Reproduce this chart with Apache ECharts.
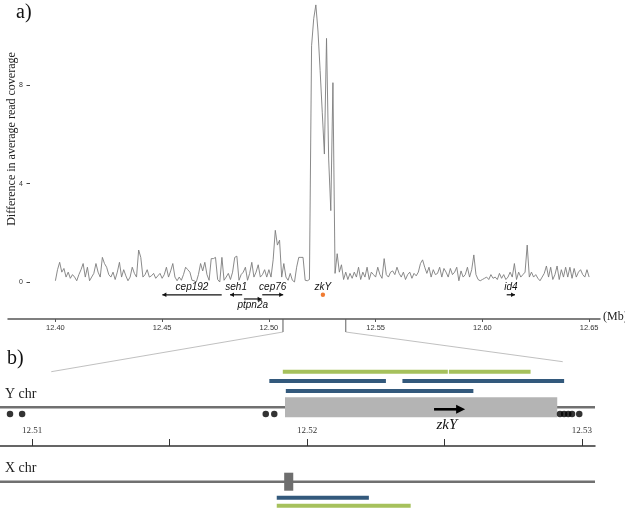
<!DOCTYPE html>
<html>
<head>
<meta charset="utf-8">
<script src="https://cdn.jsdelivr.net/npm/echarts@6/dist/echarts.min.js"></script>
<style>
  html, body { margin: 0; padding: 0; background: #fff; }
  #chart { width: 625px; height: 510px; }
</style>
</head>
<body>
<div id="chart"></div>
<script>
// --- Datos panel a: diferencia de cobertura (bins de 1 kb desde 12.400 Mb) ---
const binStart = 12.400;
const binSize = 0.001;
const coverageDiff = [
  0.05, 0.5, 0.8, 0.4, 0.55, 0.2, 0.4, 0.15, 0.3, 0.2,
  0.05, 0.3, 0.5, 0.75, 0.2, 0.6, 0.05, 0.2, 0.35, 0.75,
  0.4, 0.2, 1.0, 0.75, 0.6, 0.3, 0.2, 0.4, 0.1, 0.4,
  0.8, 0.2, 0.5, 0.25, 0.05, 0.2, 0.6, 0.35, 0.2, 1.3,
  1.0, 0.2, 0.3, 0.5, 0.2, 0.25, 0.35, 0.15, 0.25, 0.35,
  0.15, 0.3, 0.6, 0.2, 0.45, 0.75, 0.2, 0.05, 0.2, 0.07,
  0.3, 0.6, 0.5, 0.4, 0.07, 0.05, 0.0, 0.3, 0.75, 0.45,
  0.8, 0.3, 0.07, 0.95, 0.95, 1.0, 0.1, 0.0, 1.0, 0.07,
  0.2, 0.35, 0.1, 0.4, 1.0, 1.05, 0.07, 0.3, 0.4, 0.6,
  0.07, 0.35, 0.8, 0.2, 0.4, 0.7, 0.2, 0.3, 0.5, 0.2,
  0.5, 0.2, 0.9, 2.1, 1.5, 1.7, 0.2, 0.75, 0.2, 0.07,
  0.35, 0.07, 0.0, 0.6, 1.0, 1.0, 1.0, 0.07, 0.05, 0.1,
  9.6, 10.7, 11.26, 10.2, 8.6, 6.9, 5.2, 9.9, 5.0, 2.9,
  8.1, 0.35, 1.15, 0.4, 0.7, 0.1, 0.4, 0.1, 0.35, 0.15,
  0.4, 0.2, 0.6, 0.1, 0.4, 0.2, 0.6, 0.1, 0.4, 0.3,
  0.2, 0.6, 0.3, 0.15, 0.95, 0.3, 0.2, 0.4, 0.45, 0.3,
  0.6, 0.35, 0.2, 0.4, 0.1, 0.3, 0.4, 0.15, 0.35, 0.25,
  0.4, 0.75, 0.9, 0.6, 0.35, 0.6, 0.2, 0.5, 0.3, 0.35,
  0.6, 0.2, 0.55, 0.4, 0.2, 0.55, 0.3, 0.4, 0.6, 0.05,
  0.45, 0.2, 0.3, 0.6, 0.2, 0.5, 1.1, 0.3, 0.1, 0.05,
  0.1, 0.15, 0.2, 0.1, 0.3, 0.15, 0.2, 0.1, 0.35, 0.15,
  0.3, 0.1, 0.2, 0.4, 0.2, 0.75, 0.1, 0.4, 0.2, 0.3,
  0.4, 1.5, 0.2, 0.4, 0.2, 0.3, 0.15, 0.05, 0.2, 0.35,
  0.65, 0.2, 0.6, 0.1, 0.3, 0.65, 0.1, 0.5, 0.2, 0.6,
  0.2, 0.6, 0.15, 0.55, 0.2, 0.4, 0.5, 0.3, 0.2, 0.5,
  0.2
];
const xTicksA = [12.40, 12.45, 12.50, 12.55, 12.60, 12.65];
const yTicksA = [0, 4, 8];

// genes (Mb)
const geneNames  = ['cep192', 'seh1', 'ptpn2a', 'cep76', 'id4'];
const geneStart  = [12.4501, 12.4818, 12.4883, 12.4969, 12.6114];
const geneEnd    = [12.4779, 12.4875, 12.4966, 12.5067, 12.6153];
const geneStrand = [-1, -1, 1, 1, 1];
const geneLane   = [0, 0, 1, 0, 0];
const zkYName = 'zkY';
const zkYPos = 12.5253;

// zona ampliada (panel a -> panel b)
const zoomFromMb = [12.5066, 12.5360];
const zoomToMb   = [12.5107, 12.5293];

// --- Datos panel b ---
const xTicksB = [12.51, 12.515, 12.52, 12.525, 12.53];
const xLabelsB = ['12.51', '', '12.52', '', '12.53'];
const yChrGene = [12.5192, 12.5291];
const zkYArrow = [12.52462, 12.52575];
const xChrGene = [12.51917, 12.5195];
const greenReadsY = [[12.51912, 12.52512], [12.52516, 12.52813]];
const blueReadsY1 = [[12.51863, 12.52287], [12.52347, 12.52935]];
const blueReadsY2 = [[12.51923, 12.52605]];
const blueReadsX  = [[12.5189, 12.52225]];
const greenReadsX = [[12.5189, 12.52377]];
const yChrDots = [12.5092, 12.50964, 12.5185, 12.51881, 12.5292, 12.52935, 12.5295, 12.52964, 12.5299];

// --- layout ---
const laneLabelY = [-0.2, -0.93];
const laneArrowY = [-0.52, -0.69];
const rowB = { green: 41.7, blue1: 51, blue2: 61, yChr: 77.3, dots: 84, zkYLabel: 95,
               xChr: 151.7, xBlue: 167.7, xGreen: 175.7 };
const GREEN = '#a6c15c';
const BLUE = '#33597c';
const SERIF = '"Liberation Serif", "DejaVu Serif", serif';
const SANS = '"Liberation Sans", Arial, sans-serif';

const chart = echarts.init(document.getElementById('chart'));

const lineData = coverageDiff.map((v, i) => [+(binStart + i * binSize).toFixed(3), v]);

function arrowShape(x1, x2, y, dir, head, half) {
  const tip = dir > 0 ? x2 : x1;
  const base = tip - dir * head;
  return [[tip, y], [base, y - half], [base, y + half]];
}

function geneItem(params, api) {
  const i = params.dataIndex;
  const lane = geneLane[i];
  const a = api.coord([geneStart[i], laneArrowY[lane]]);
  const b = api.coord([geneEnd[i], laneArrowY[lane]]);
  const t = api.coord([(geneStart[i] + geneEnd[i]) / 2, laneLabelY[lane]]);
  const dir = geneStrand[i];
  return {
    type: 'group',
    children: [
      { type: 'line', shape: { x1: a[0], y1: a[1], x2: b[0], y2: b[1] },
        style: { stroke: '#111', lineWidth: 1.2 } },
      { type: 'polygon', shape: { points: arrowShape(a[0], b[0], a[1], dir, 4, 2.2) },
        style: { fill: '#111' } },
      { type: 'text', x: t[0], y: t[1],
        style: { text: geneNames[i], fill: '#111', font: 'italic 10px ' + SANS,
                 textAlign: 'center', textVerticalAlign: 'middle' } }
    ]
  };
}

function zkYItem(params, api) {
  const p = api.coord([zkYPos, laneArrowY[0]]);
  const t = api.coord([zkYPos, laneLabelY[0]]);
  return {
    type: 'group',
    children: [
      { type: 'circle', shape: { cx: p[0], cy: p[1], r: 2.2 }, style: { fill: '#f07b32' } },
      { type: 'text', x: t[0], y: t[1],
        style: { text: zkYName, fill: '#111', font: 'italic 10px ' + SANS,
                 textAlign: 'center', textVerticalAlign: 'middle' } }
    ]
  };
}

function barsSeries(intervals, row, color, h) {
  return {
    type: 'custom', xAxisIndex: 1, yAxisIndex: 1,
    data: intervals.map(d => [d[0], d[1]]),
    renderItem: function (params, api) {
      const a = api.coord([api.value(0), row]);
      const b = api.coord([api.value(1), row]);
      return { type: 'rect', shape: { x: a[0], y: a[1] - h / 2, width: b[0] - a[0], height: h },
               style: { fill: color } };
    }
  };
}

function chromItem(row, label, gene, geneColor, geneH) {
  return {
    type: 'custom', xAxisIndex: 1, yAxisIndex: 1,
    data: [gene],
    renderItem: function (params, api) {
      const cs = params.coordSys;
      const a = api.coord([api.value(0), row]);
      const b = api.coord([api.value(1), row]);
      return {
        type: 'group',
        children: [
          { type: 'line', shape: { x1: cs.x, y1: a[1], x2: cs.x + cs.width, y2: a[1] },
            style: { stroke: '#707070', lineWidth: 2.5 } },
          { type: 'rect', shape: { x: a[0], y: a[1] - geneH / 2, width: b[0] - a[0], height: geneH },
            style: { fill: geneColor } },
          { type: 'text', x: cs.x + 5, y: a[1] - 13,
            style: { text: label, fill: '#222', font: '14px ' + SERIF,
                     textAlign: 'left', textVerticalAlign: 'middle' } }
        ]
      };
    }
  };
}

chart.setOption({
  animation: false,
  backgroundColor: '#fff',
  grid: [
    { left: 8, right: 25, top: 0, height: 319 },
    { left: 0, right: 30, top: 330, height: 180 },
    { left: 0, right: 30, top: 446, height: 20 }
  ],
  xAxis: [
    {
      gridIndex: 0, type: 'value', min: 12.3778, max: 12.6551,
      axisLine: { show: true, onZero: false, lineStyle: { color: '#555', width: 1.5 } },
      axisTick: { show: true, length: 3, customValues: xTicksA, lineStyle: { color: '#555' } },
      axisLabel: { customValues: xTicksA, formatter: v => v.toFixed(2), margin: 5,
                   fontSize: 7.5, color: '#333', fontFamily: SANS },
      splitLine: { show: false }
    },
    {
      gridIndex: 1, type: 'value', min: 12.508836, max: 12.530473, show: false
    },
    {
      gridIndex: 2, type: 'value', min: 12.508836, max: 12.530473, position: 'top',
      axisLine: { show: true, onZero: false, lineStyle: { color: '#333', width: 1.5 } },
      axisTick: { show: true, length: 7, customValues: xTicksB, lineStyle: { color: '#333', width: 1 } },
      axisLabel: { customValues: xTicksB, margin: 11, fontSize: 9, color: '#333', fontFamily: SERIF,
                   formatter: v => xLabelsB[xTicksB.findIndex(t => Math.abs(t - v) < 1e-6)] || '' },
      splitLine: { show: false }
    }
  ],
  yAxis: [
    {
      gridIndex: 0, type: 'value', min: -1.504, max: 11.46, offset: -22,
      axisLine: { show: false, onZero: false },
      axisTick: { show: true, length: 3.5, customValues: yTicksA, lineStyle: { color: '#444' } },
      axisLabel: { customValues: yTicksA, margin: 7, fontSize: 7, color: '#333', fontFamily: SANS },
      splitLine: { show: false }
    },
    { gridIndex: 1, type: 'value', min: 0, max: 180, inverse: true, show: false },
    { gridIndex: 2, type: 'value', min: 0, max: 1, show: false }
  ],
  series: [
    {
      type: 'line', xAxisIndex: 0, yAxisIndex: 0, data: lineData,
      showSymbol: false, symbol: 'none', sampling: null,
      lineStyle: { color: '#7d7d7d', width: 0.9 }
    },
    { type: 'custom', xAxisIndex: 0, yAxisIndex: 0, data: geneNames.map((n, i) => [i]), renderItem: geneItem },
    { type: 'custom', xAxisIndex: 0, yAxisIndex: 0, data: [[zkYPos]], renderItem: zkYItem },
    barsSeries(greenReadsY, rowB.green, GREEN, 4),
    barsSeries(blueReadsY1, rowB.blue1, BLUE, 4),
    barsSeries(blueReadsY2, rowB.blue2, BLUE, 4),
    chromItem(rowB.yChr, 'Y chr', yChrGene, '#b4b4b4', 20),
    chromItem(rowB.xChr, 'X chr', xChrGene, '#6e6e6e', 18),
    barsSeries(blueReadsX, rowB.xBlue, BLUE, 4),
    barsSeries(greenReadsX, rowB.xGreen, GREEN, 4),
    {
      type: 'scatter', xAxisIndex: 1, yAxisIndex: 1, symbolSize: 6.5,
      itemStyle: { color: '#000' },
      data: yChrDots.map(x => [x, rowB.dots])
    },
    {
      type: 'custom', xAxisIndex: 1, yAxisIndex: 1, data: [zkYArrow],
      renderItem: function (params, api) {
        const a = api.coord([api.value(0), rowB.yChr + 2]);
        const b = api.coord([api.value(1), rowB.yChr + 2]);
        const t = api.coord([(api.value(0) + api.value(1)) / 2 - 0.0001, rowB.zkYLabel]);
        return {
          type: 'group',
          children: [
            { type: 'line', shape: { x1: a[0], y1: a[1], x2: b[0] - 6, y2: b[1] },
              style: { stroke: '#000', lineWidth: 2.6 } },
            { type: 'polygon', shape: { points: arrowShape(a[0], b[0], a[1], 1, 9, 4.5) },
              style: { fill: '#000' } },
            { type: 'text', x: t[0], y: t[1],
              style: { text: zkYName, fill: '#111', font: 'italic 15px ' + SERIF,
                       textAlign: 'center', textVerticalAlign: 'middle' } }
          ]
        };
      }
    }
  ]
});

// lineas de ampliacion entre paneles y textos sueltos
const axisYA = -1.504;
const pA0 = chart.convertToPixel({ gridIndex: 0 }, [zoomFromMb[0], axisYA]);
const pA1 = chart.convertToPixel({ gridIndex: 0 }, [zoomFromMb[1], axisYA]);
const pB0 = chart.convertToPixel({ gridIndex: 1 }, [zoomToMb[0], rowB.green]);
const pB1 = chart.convertToPixel({ gridIndex: 1 }, [zoomToMb[1], rowB.green - 10]);

chart.setOption({
  graphic: [
    { type: 'polyline', shape: { points: [[pA0[0], pA0[1]], [pA0[0], pA0[1] + 13], [pB0[0], pB0[1]]] },
      style: { stroke: '#b0b0b0', lineWidth: 0.8, fill: null } },
    { type: 'polyline', shape: { points: [[pA1[0], pA1[1]], [pA1[0], pA1[1] + 13], [pB1[0], pB1[1]]] },
      style: { stroke: '#b0b0b0', lineWidth: 0.8, fill: null } },
    { type: 'line', shape: { x1: pA0[0], y1: pA0[1], x2: pA0[0], y2: pA0[1] + 13 },
      style: { stroke: '#777', lineWidth: 1 } },
    { type: 'line', shape: { x1: pA1[0], y1: pA1[1], x2: pA1[0], y2: pA1[1] + 13 },
      style: { stroke: '#777', lineWidth: 1 } },
    { type: 'text', left: 16, top: 3, style: { text: 'a)', font: '20px ' + SERIF, fill: '#111' } },
    { type: 'text', left: 7, top: 349, style: { text: 'b)', font: '20px ' + SERIF, fill: '#111' } },
    { type: 'text', left: 603, top: 311, style: { text: '(Mb)', font: '12px ' + SERIF, fill: '#222' } },
    { type: 'text', x: 12, y: 139, rotation: Math.PI / 2,
      style: { text: 'Difference in average read coverage', font: '12px ' + SERIF, fill: '#222',
               textAlign: 'center', textVerticalAlign: 'middle' } }
  ]
});
</script>
</body>
</html>
